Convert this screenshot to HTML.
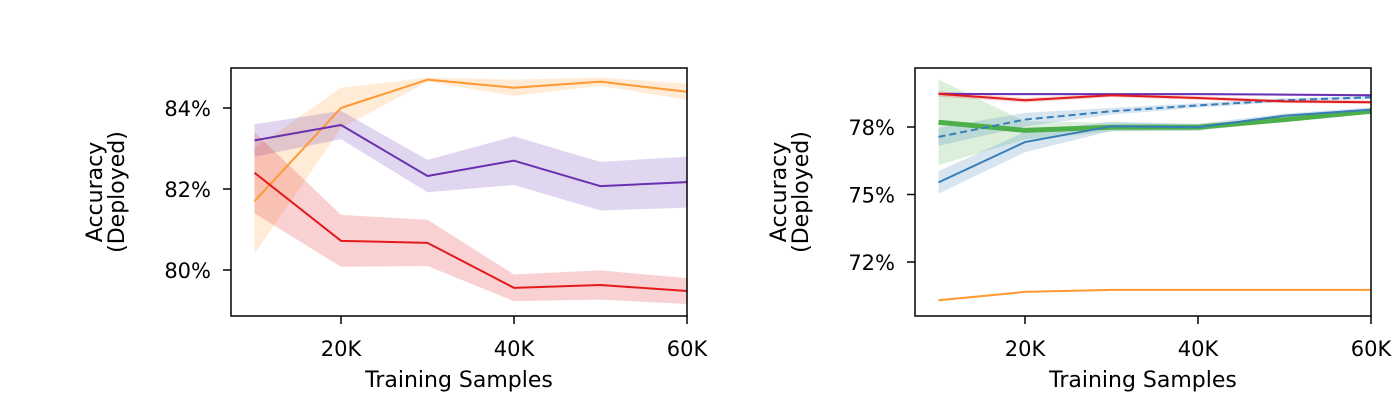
<!DOCTYPE html>
<html><head><meta charset="utf-8"><style>
body{margin:0;background:#fff;}
svg{display:block;font-family:"DejaVu Sans","Liberation Sans",sans-serif;}
</style></head><body>
<svg id="chart" width="1400" height="400" viewBox="0 0 1400 400" xmlns="http://www.w3.org/2000/svg"></svg>
<script>
const xValues=[10,20,30,40,50,60];
const xTicks=[20,40,60];
const xTickLabels=['20K','40K','60K'];
// left panel
const leftYTicks=[80,82,84];
const leftYTickLabels=['80%','82%','84%'];
const lOrange=[81.7,84.0,84.7,84.5,84.65,84.4];
const lOrangeErr=[1.3,0.5,0.05,0.2,0.1,0.2];
const lPurple=[83.2,83.58,82.32,82.7,82.07,82.17];
const lPurpleErr=[0.4,0.35,0.4,0.6,0.6,0.63];
const lRed=[82.4,80.72,80.67,79.56,79.63,79.48];
const lRedErr=[1.0,0.64,0.57,0.33,0.36,0.32];
// right panel
const rightYTicks=[72,75,78];
const rightYTickLabels=['72%','75%','78%'];
const rPurple=[79.47,79.46,79.46,79.46,79.44,79.41];
const rPurpleErr=[0.05,0.05,0.05,0.05,0.05,0.05];
const rRed=[79.47,79.19,79.41,79.29,79.14,79.1];
const rRedErr=[0.12,0.1,0.08,0.08,0.08,0.08];
const rBlueDash=[77.56,78.33,78.7,78.96,79.19,79.32];
const rBlueDashErr=[0.4,0.3,0.15,0.1,0.08,0.08];
const rBlue=[75.54,77.33,78.03,77.99,78.5,78.77];
const rBlueErr=[0.5,0.45,0.2,0.15,0.1,0.1];
const rGreen=[78.21,77.85,77.99,77.99,78.33,78.7];
const rGreenErr=[1.9,0.4,0.2,0.15,0.1,0.08];
const rOrange=[70.3,70.67,70.76,70.76,70.76,70.76];
const rOrangeErr=[0.05,0.05,0.03,0.03,0.03,0.03];

const svg=document.getElementById('chart');
const NS='http://www.w3.org/2000/svg';
function mk(tag,attrs,parent){const e=document.createElementNS(NS,tag);for(const k in attrs)e.setAttribute(k,attrs[k]);(parent||svg).appendChild(e);return e;}

function panel(cfg){
  const g=mk('g',{});
  
  
  const L=cfg.left,R=cfg.left+456,T=68,B=316;
  const xs=v=>cfg.left+23.5+(v-10)*8.65;
  const ys=v=>cfg.y0px+(v-cfg.y0)*cfg.pxPer;
  cfg.series.forEach(s=>{
    const up=s.v.map((v,i)=>xs(xValues[i])+','+ys(v+s.e[i]));
    const lo=s.v.map((v,i)=>xs(xValues[i])+','+ys(v-s.e[i])).reverse();
    const band=mk('polygon',{points:up.concat(lo).join(' '),fill:s.c,'fill-opacity':0.2,stroke:'none'},g);
    
    
  });
  cfg.series.forEach(s=>{
    const pts=s.v.map((v,i)=>xs(xValues[i])+','+ys(v)).join(' ');
    const a={points:pts,fill:'none',stroke:s.c,'stroke-width':s.w||2,'stroke-linejoin':'round'};
    if(s.dash)a['stroke-dasharray']='7,4';
    const pl=mk('polyline',a,g);
    
    
  });
  const box=mk('rect',{x:L,y:T,width:456,height:248,fill:'none',stroke:'#000','stroke-width':1.5},g);
  
  
  xTicks.forEach((t,i)=>{
    const x=xs(t);
    mk('line',{x1:x,x2:x,y1:B,y2:B+8,stroke:'#000','stroke-width':1.5},g);
    const tx=mk('text',{x:x,y:B+40,'text-anchor':'middle','font-size':21},g);
    tx.textContent=xTickLabels[i];
    
    
  });
  cfg.yTicks.forEach((t,i)=>{
    const y=ys(t);
    mk('line',{x1:L-8,x2:L,y1:y,y2:y,stroke:'#000','stroke-width':1.5},g);
    const tx=mk('text',{x:L-20,y:y+8,'text-anchor':'end','font-size':21},g);
    tx.textContent=cfg.yLabels[i];
    
    
  });
  const xl=mk('text',{x:cfg.left+228,y:387,'text-anchor':'middle','font-size':22},g);
  xl.textContent='Training Samples';
  
  
  const yl=mk('text',{transform:`translate(${L-129},192) rotate(-90)`,'text-anchor':'middle','font-size':22},g);
  
  
  const t1=mk('tspan',{x:0,dy:0},yl);t1.textContent='Accuracy';
  const t2=mk('tspan',{x:0,dy:22},yl);t2.textContent='(Deployed)';
}
panel({name:'left-panel',left:231,y0:84,y0px:108,pxPer:-40.5,yTicks:leftYTicks,yLabels:leftYTickLabels,
  series:[{name:'orange',v:lOrange,e:lOrangeErr,c:'#ff9933'},{name:'purple',v:lPurple,e:lPurpleErr,c:'#6a30b0'},{name:'red',v:lRed,e:lRedErr,c:'#e31a1c'}]});
panel({name:'right-panel',left:915,y0:78,y0px:127,pxPer:-22.5,yTicks:rightYTicks,yLabels:rightYTickLabels,
  series:[{name:'green',v:rGreen,e:rGreenErr,c:'#4daf4a',w:5},{name:'blue',v:rBlue,e:rBlueErr,c:'#377eb8'},{name:'blue-dashed',v:rBlueDash,e:rBlueDashErr,c:'#377eb8',dash:true},{name:'orange',v:rOrange,e:rOrangeErr,c:'#ff9933'},{name:'purple',v:rPurple,e:rPurpleErr,c:'#6a30b0'},{name:'red',v:rRed,e:rRedErr,c:'#e31a1c'}]});
</script>
</body></html>
